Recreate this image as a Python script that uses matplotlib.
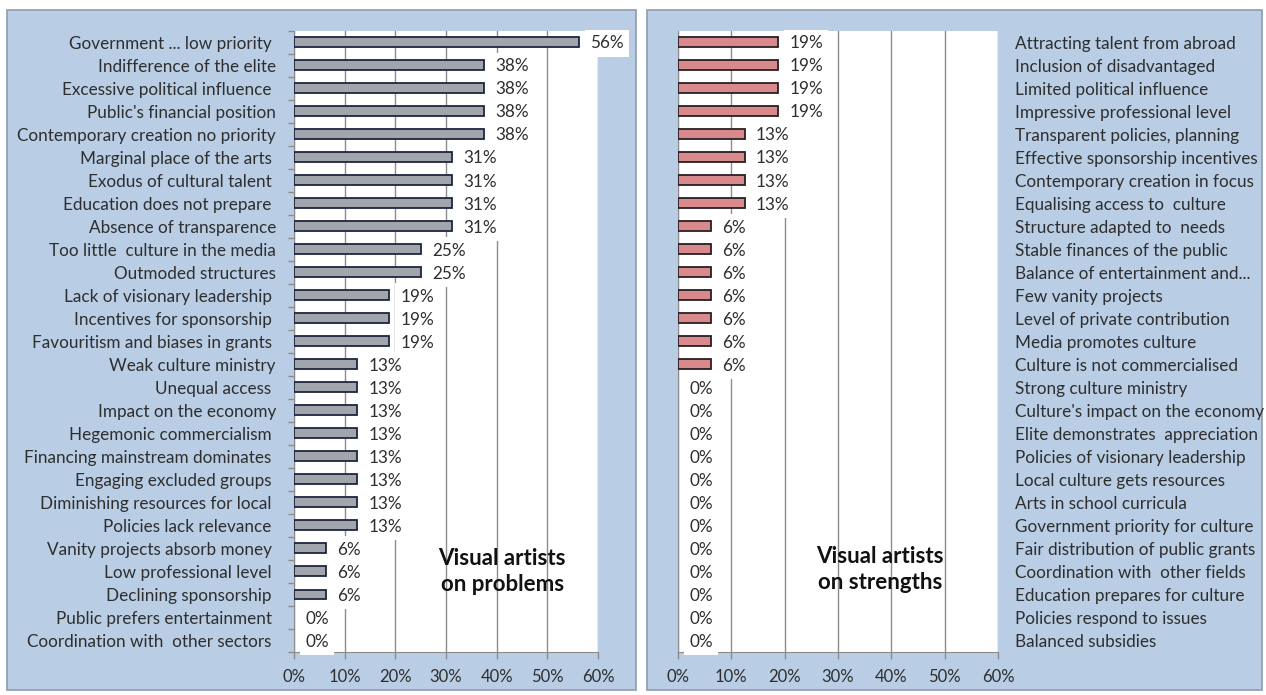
import matplotlib
matplotlib.use("Agg")
import matplotlib.pyplot as plt
from matplotlib.patches import Rectangle
from matplotlib.ticker import FixedLocator, FuncFormatter

# ---------------- data ----------------
problem_labels = [
    "Government ... low priority ", "Indifference of the elite", "Excessive political influence ",
    "Public's financial position", "Contemporary creation no priority", "Marginal place of the arts ",
    "Exodus of cultural talent ", "Education does not prepare ", "Absence of transparence",
    "Too little  culture in the media", "Outmoded structures", "Lack of visionary leadership ",
    "Incentives for sponsorship ", "Favouritism and biases in grants ", "Weak culture ministry",
    "Unequal access ", "Impact on the economy", "Hegemonic commercialism ",
    "Financing mainstream dominates ", "Engaging excluded groups ", "Diminishing resources for local ",
    "Policies lack relevance ", "Vanity projects absorb money ", "Low professional level ",
    "Declining sponsorship ", "Public prefers entertainment ", "Coordination with  other sectors ",
]
problem_values = [56.25, 37.5, 37.5, 37.5, 37.5, 31.25, 31.25, 31.25, 31.25, 25, 25,
                  18.75, 18.75, 18.75, 12.5, 12.5, 12.5, 12.5, 12.5, 12.5, 12.5, 12.5,
                  6.25, 6.25, 6.25, 0, 0]

strength_labels = [
    "Attracting talent from abroad", "Inclusion of disadvantaged", "Limited political influence",
    "Impressive professional level", "Transparent policies, planning", "Effective sponsorship incentives",
    "Contemporary creation in focus", "Equalising access to  culture", "Structure adapted to  needs",
    "Stable finances of the public", "Balance of entertainment and...", "Few vanity projects",
    "Level of private contribution", "Media promotes culture", "Culture is not commercialised",
    "Strong culture ministry", "Culture's impact on the economy", "Elite demonstrates  appreciation",
    "Policies of visionary leadership", "Local culture gets resources", "Arts in school curricula",
    "Government priority for culture", "Fair distribution of public grants", "Coordination with  other fields",
    "Education prepares for culture", "Policies respond to issues", "Balanced subsidies",
]
strength_values = [18.75, 18.75, 18.75, 18.75, 12.5, 12.5, 12.5, 12.5,
                    6.25, 6.25, 6.25, 6.25, 6.25, 6.25, 6.25,
                    0, 0, 0, 0, 0, 0, 0, 0, 0, 0, 0, 0]

x_ticks = [0, 10, 20, 30, 40, 50, 60]
titles = ["Visual artists\non problems", "Visual artists\non strengths"]

# ---------------- style ----------------
FONT = "Lato"
TXT = "#2E2E2E"
PANEL_BG = "#B9CDE5"
PANEL_EDGE = "#8E9BAE"
GRID = "#8C8C8C"
W, H = 1266, 695

fig = plt.figure(figsize=(W / 100, H / 100), dpi=100)
fig.patch.set_facecolor("white")

def fx(px):
    return px / W

def fy(py):
    return 1 - py / H

# panel backgrounds
for (x0, x1) in [(7, 636), (647, 1262)]:
    fig.patches.append(Rectangle((fx(x0), fy(690)), fx(x1 - x0), (690 - 10) / H,
                                 transform=fig.transFigure, facecolor=PANEL_BG,
                                 edgecolor=PANEL_EDGE, linewidth=1.2, zorder=-5))

def pct_label(v):
    return "%d%%" % int(v + 0.5)

def draw_panel(ax, labels, values, face, edge, title, title_xy, labels_right):
    n = len(values)
    ypos = list(range(n))
    ax.set_zorder(2)
    ax.set_facecolor("white")
    edges = [edge if v > 0 else "none" for v in values]
    ax.barh(ypos, values, height=0.43, color=face, edgecolor=edges, linewidth=1.3, zorder=3)
    ax.set_xlim(0, 60)
    ax.set_ylim(n - 0.5, -0.5)
    ax.xaxis.set_major_locator(FixedLocator(x_ticks))
    ax.xaxis.set_major_formatter(FuncFormatter(lambda v, p: "%d%%" % v))
    ax.grid(axis="x", color=GRID, linewidth=1.0, zorder=1)
    ax.set_axisbelow(True)
    for s in ["top", "right"]:
        ax.spines[s].set_visible(False)
    ax.spines["bottom"].set_color(GRID)
    ax.spines["left"].set_color(GRID)
    ax.tick_params(axis="x", colors=GRID, length=5, width=1, labelcolor=TXT,
                   labelsize=12, pad=7)
    ax.set_yticks(ypos)
    ax.set_yticklabels(labels, fontsize=12.3, color=TXT, family=FONT)
    if labels_right:
        ax.yaxis.set_ticks_position("right")
        ax.tick_params(axis="y", length=0, pad=12, labelcolor=TXT)
        for t in ax.get_yticklabels():
            t.set_horizontalalignment("left")
    else:
        ax.tick_params(axis="y", which="major", length=0, pad=13)
        ax.yaxis.set_minor_locator(FixedLocator([i + 0.5 for i in range(-1, n)]))
        ax.tick_params(axis="y", which="minor", length=4, color=GRID, width=1)
    for t in ax.get_xticklabels():
        t.set_family(FONT)
    for y, v in zip(ypos, values):
        ax.annotate(pct_label(v), xy=(v, y + 0.06), xytext=(8, 0), textcoords="offset points",
                    ha="left", va="center", fontsize=12.3, color=TXT, family=FONT,
                    bbox=dict(boxstyle="square,pad=0.32", facecolor="white", edgecolor="none"),
                    zorder=4, annotation_clip=False)
    ax.text(title_xy[0], title_xy[1], title, ha="center", va="center", fontsize=16,
            fontweight="bold", family=FONT, color="#111111", linespacing=1.3,
            transform=ax.transData, zorder=5)

ax1 = fig.add_axes([fx(294), fy(652), fx(598 - 294), (652 - 30.5) / H])
draw_panel(ax1, problem_labels, problem_values, "#A3A5AD", "#1E2640", titles[0],
           (41.1, 23.0), False)

ax2 = fig.add_axes([fx(678), fy(652), fx(998 - 678), (652 - 30.5) / H])
draw_panel(ax2, strength_labels, strength_values, "#D8898C", "#2A1E22", titles[1],
           (37.9, 22.9), True)

fig.savefig("out.png", dpi=100, facecolor="white")
